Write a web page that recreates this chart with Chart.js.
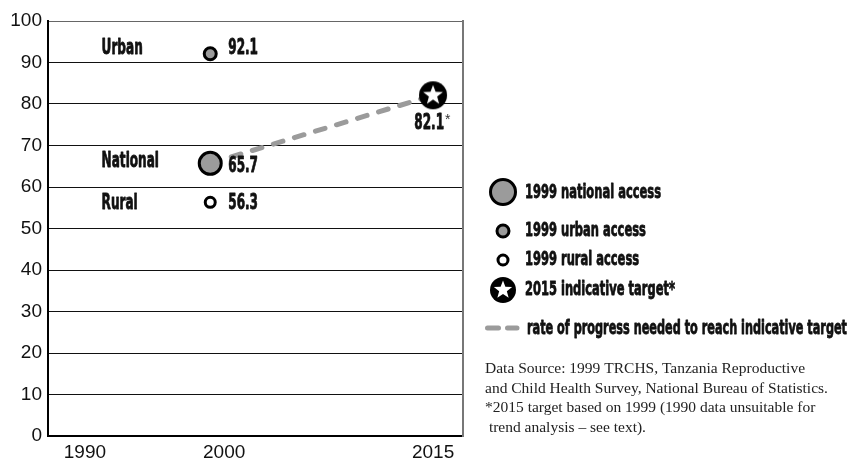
<!DOCTYPE html>
<html>
<head>
<meta charset="utf-8">
<script src="https://cdn.jsdelivr.net/npm/chart.js@4/dist/chart.umd.min.js"></script>
<style>
  html, body { margin: 0; padding: 0; background: #fff; }
  #wrap { width: 851px; height: 460px; position: relative; }
</style>
</head>
<body>
<div id="wrap"><canvas id="chart" width="851" height="460"></canvas></div>
<script>
// data
const groups = ['Urban', 'National', 'Rural'];
const access1999 = [92.1, 65.7, 56.3];
const baseYear = 1999;
const targetYear = 2015;
const target2015 = 82.1;
const xTickYears = [1990, 2000, 2015];
const yTickValues = [0, 10, 20, 30, 40, 50, 60, 70, 80, 90, 100];

const legendItems = [
  '1999 national access',
  '1999 urban access',
  '1999 rural access',
  '2015 indicative target*',
  'rate of progress needed to reach indicative target'
];
const sourceLines = [
  'Data Source: 1999 TRCHS, Tanzania Reproductive',
  'and Child Health Survey, National Bureau of Statistics.',
  '*2015 target based on 1999 (1990 data unsuitable for',
  ' trend analysis \u2013 see text).'
];

const GOTHIC = "'Liberation Sans Narrow', 'DejaVu Sans Condensed', 'Roboto Condensed', sans-serif";
const GREY = '#9b9b9b';
let squeeze = 1;

function calibrate(ctx) {
  ctx.save();
  ctx.font = `bold 20px ${GOTHIC}`;
  squeeze = 136 / ctx.measureText('1999 national access').width;
  ctx.restore();
}

// condensed bold text, squeezed horizontally to match the poster face
function gothic(ctx, text, x, y, size, align, fitWidth) {
  ctx.save();
  ctx.font = `bold ${size}px ${GOTHIC}`;
  const sx = fitWidth ? fitWidth / ctx.measureText(text).width : squeeze;
  ctx.translate(x, y);
  ctx.scale(sx, 1);
  ctx.textAlign = align || 'left';
  ctx.textBaseline = 'middle';
  ctx.fillStyle = '#111';
  ctx.strokeStyle = '#111';
  ctx.lineWidth = 0.8;
  ctx.lineJoin = 'round';
  ctx.fillText(text, 0, 0);
  ctx.strokeText(text, 0, 0);
  ctx.restore();
}

function drawStar(ctx, cx, cy, r) {
  ctx.save();
  ctx.fillStyle = '#000';
  ctx.beginPath();
  ctx.arc(cx, cy, r, 0, Math.PI * 2);
  ctx.fill();
  ctx.fillStyle = '#fff';
  ctx.beginPath();
  const outer = r * 0.74, inner = r * 0.31;
  for (let i = 0; i < 10; i++) {
    const a = -Math.PI / 2 + i * Math.PI / 5;
    const rr = i % 2 ? inner : outer;
    const px = cx + Math.cos(a) * rr, py = cy + Math.sin(a) * rr;
    i ? ctx.lineTo(px, py) : ctx.moveTo(px, py);
  }
  ctx.closePath();
  ctx.fill();
  ctx.restore();
}

function starImage(r) {
  const c = document.createElement('canvas');
  c.width = c.height = r * 2 + 2;
  drawStar(c.getContext('2d'), r + 1, r + 1, r);
  return c;
}

function drawDot(ctx, x, y, r, fill, bw) {
  ctx.save();
  ctx.beginPath();
  ctx.arc(x, y, r, 0, Math.PI * 2);
  ctx.fillStyle = fill;
  ctx.fill();
  ctx.lineWidth = bw;
  ctx.strokeStyle = '#000';
  ctx.stroke();
  ctx.restore();
}

// small vertical nudges so the labels sit like the original
const nameDy = [-5, -2, 1];
const valueDy = [-5, 3, 1];

const labelsPlugin = {
  id: 'pointLabels',
  afterDatasetsDraw(chart) {
    const { ctx, scales: { x, y } } = chart;
    const px = x.getPixelForValue(baseYear);
    groups.forEach((g, i) => {
      const py = y.getPixelForValue(access1999[i]);
      gothic(ctx, g, x.getPixelForValue(1991.2), py + nameDy[i], 21, 'left');
      gothic(ctx, access1999[i].toFixed(1), px + 18, py + valueDy[i], 21, 'left');
    });
    const tx = x.getPixelForValue(targetYear);
    const ty = y.getPixelForValue(target2015);
    gothic(ctx, target2015.toFixed(1), tx + 11, ty + 28, 21, 'right');
    ctx.save();
    ctx.font = `14px 'Liberation Sans', sans-serif`;
    ctx.fillStyle = '#333';
    ctx.textBaseline = 'middle';
    ctx.fillText('*', tx + 12, ty + 25);
    ctx.restore();
  }
};

const legendPlugin = {
  id: 'sideLegend',
  afterDraw(chart) {
    const ctx = chart.ctx;
    const ix = 503, tx = 525;
    drawDot(ctx, ix, 192, 12.5, GREY, 3);
    gothic(ctx, legendItems[0], tx, 193, 20);
    drawDot(ctx, ix, 231, 6, GREY, 3);
    gothic(ctx, legendItems[1], tx, 231, 20);
    drawDot(ctx, ix, 260, 5, '#fff', 3);
    gothic(ctx, legendItems[2], tx, 260, 20);
    drawStar(ctx, ix, 290, 13);
    gothic(ctx, legendItems[3], tx, 290, 20);

    ctx.save();
    ctx.strokeStyle = GREY;
    ctx.lineWidth = 5;
    ctx.lineCap = 'round';
    ctx.setLineDash([11, 9]);
    ctx.beginPath();
    ctx.moveTo(487.5, 328);
    ctx.lineTo(517, 328);
    ctx.stroke();
    ctx.restore();
    gothic(ctx, legendItems[4], 527, 329, 20, 'left', 320);

    ctx.save();
    ctx.font = `15.5px 'Liberation Serif', 'DejaVu Serif', serif`;
    ctx.fillStyle = '#222';
    ctx.textBaseline = 'middle';
    sourceLines.forEach((line, i) => ctx.fillText(line, 485, 369 + i * 19.5));
    ctx.restore();
  }
};

const ctx = document.getElementById('chart').getContext('2d');
calibrate(ctx);

new Chart(ctx, {
  type: 'scatter',
  data: {
    datasets: [
      {
        label: 'target',
        data: [{ x: targetYear, y: target2015 }],
        pointStyle: starImage(14),
        pointRadius: 14,
        order: 1
      },
      {
        label: groups[0],
        data: [{ x: baseYear, y: access1999[0] }],
        pointRadius: 6,
        pointBackgroundColor: GREY,
        pointBorderColor: '#000',
        pointBorderWidth: 3,
        order: 1
      },
      {
        label: groups[1],
        data: [{ x: baseYear, y: access1999[1] }],
        pointRadius: 11,
        pointBackgroundColor: GREY,
        pointBorderColor: '#000',
        pointBorderWidth: 3,
        order: 1
      },
      {
        label: groups[2],
        data: [{ x: baseYear, y: access1999[2] }],
        pointRadius: 5,
        pointBackgroundColor: '#fff',
        pointBorderColor: '#000',
        pointBorderWidth: 3,
        order: 1
      },
      {
        label: 'progress',
        data: [{ x: baseYear, y: access1999[1] }, { x: targetYear, y: target2015 }],
        showLine: true,
        borderColor: GREY,
        borderWidth: 5,
        borderDash: [10, 12],
        borderCapStyle: 'round',
        pointRadius: 0,
        order: 10
      }
    ]
  },
  options: {
    responsive: false,
    animation: false,
    events: [],
    layout: { padding: { left: 0, right: 388, top: 21, bottom: 0 } },
    plugins: { legend: { display: false }, tooltip: { enabled: false } },
    scales: {
      x: {
        type: 'linear',
        min: 1987.35,
        max: 2017.15,
        afterBuildTicks: s => { s.ticks = xTickYears.map(v => ({ value: v })); },
        afterFit: s => { s.height = 24; },
        grid: { display: false, drawTicks: false },
        border: { display: true, color: '#000', width: 2 },
        ticks: {
          color: '#111',
          font: { family: "'Liberation Sans', Arial, sans-serif", size: 19 },
          padding: 5,
          maxRotation: 0,
          callback: v => String(v)
        }
      },
      y: {
        min: 0,
        max: 100,
        afterBuildTicks: s => { s.ticks = yTickValues.map(v => ({ value: v })); },
        afterFit: s => { s.width = 48; },
        grid: {
          drawTicks: false,
          color: c => (c.tick && c.tick.value === 100 ? '#666' : '#111'),
          lineWidth: 1
        },
        border: { display: true, color: '#000', width: 2 },
        ticks: {
          color: '#111',
          font: { family: "'Liberation Sans', Arial, sans-serif", size: 19 },
          padding: 6
        }
      },
      y2: {
        position: 'right',
        min: 0,
        max: 100,
        afterFit: s => { s.width = 0; },
        grid: { display: false, drawTicks: false },
        ticks: { display: false },
        border: { display: true, color: '#777', width: 2 }
      }
    }
  },
  plugins: [labelsPlugin, legendPlugin]
});
</script>
</body>
</html>
